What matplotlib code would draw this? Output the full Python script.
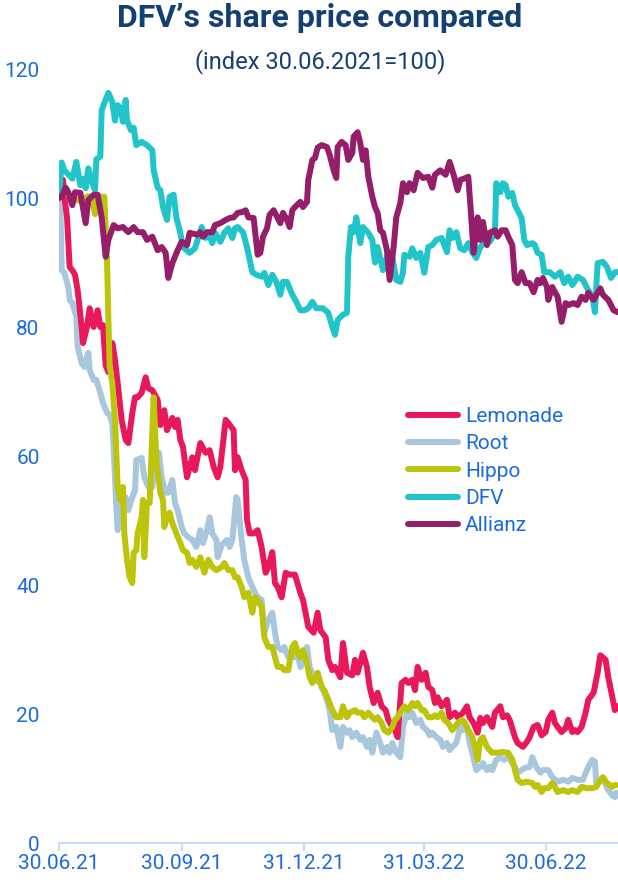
import matplotlib
matplotlib.use('Agg')
import matplotlib.pyplot as plt
import matplotlib.dates as mdates
import pandas as pd

plt.rcParams['font.family'] = ['Roboto', 'DejaVu Sans']

# index, 30.06.2021 = 100; (days after 30.06.2021, value)
start = pd.Timestamp('2021-06-30')

dfv = [(0, 100), (2, 105.5), (4, 104.3), (10, 103), (13, 105.6), (16, 102), (18, 103), (20, 101.5), (22, 104.6),
       (25, 102.3), (27, 101.2), (28, 106), (31, 106.4), (32, 113.6), (34, 114.7), (37, 116.3), (40, 114.9),
       (42, 112), (44, 114.4), (46, 114), (48, 111.8), (50, 115.2), (51, 112), (54, 110.5), (56, 110.9),
       (58, 108.2), (62, 108.7), (66, 108.2), (70, 107.4), (71, 104.3), (74, 101.6), (76, 101.2), (78, 98.6),
       (81, 96.6), (83, 100.2), (86, 100.5), (88, 97), (91, 94.6), (93, 92.4), (98, 91.5), (102, 92.2),
       (107, 95.5), (110, 93.8), (112, 94.7), (115, 93), (117, 94.6), (121, 93.2), (124, 94.6), (127, 95.3),
       (130, 93.8), (132, 95.3), (134, 95.5), (138, 94.7), (141, 92.4), (145, 88.5), (148, 88.1), (152, 87.8),
       (154, 88.4), (157, 86.5), (160, 88.1), (163, 87), (166, 85), (168, 87), (171, 87), (175, 85), (178, 83.9),
       (181, 82.6), (184, 82.6), (187, 82.9), (190, 83.9), (193, 82.9), (198, 82.9), (202, 82.2), (205, 80),
       (207, 78.8), (209, 81.1), (213, 81.9), (216, 82.2), (217, 90.9), (219, 95.5), (221, 94.7), (223, 97),
       (226, 93), (228, 95.5), (232, 94.6), (235, 93.5), (237, 90), (239, 92.4), (243, 88.8), (247, 91.5),
       (250, 90.9), (253, 87.3), (256, 87), (258, 88.4), (259, 91.2), (263, 90.9), (265, 92.2), (268, 90.7),
       (271, 91.5), (274, 88.4), (277, 92.4), (280, 92.7), (283, 93.5), (287, 93.8), (291, 91.6), (293, 95),
       (295, 93.8), (298, 94.7), (301, 92.2), (304, 91.9), (307, 93), (310, 91.6), (313, 90.7), (316, 92.4),
       (319, 93), (323, 93.2), (327, 94.6), (328, 102.3), (331, 100.9), (333, 102.3), (335, 102), (337, 100.2),
       (340, 100.8), (342, 98.9), (344, 98.1), (347, 96.9), (349, 93.5), (351, 92.7), (355, 93), (357, 92.7),
       (359, 91.5), (362, 91.2), (364, 88.5), (368, 88.5), (372, 87.8), (376, 88.5), (379, 86.8), (382, 87.8),
       (385, 86.5), (389, 87.8), (393, 87.3), (397, 85.7), (400, 84.7), (402, 82.3), (404, 89.9), (408, 90.1),
       (411, 89.3), (414, 87.6), (417, 88.5), (419, 88.5)]

allianz = [(0, 100), (2, 100.2), (5, 101.6), (7, 100.9), (10, 98.9), (12, 100.9), (16, 100.8), (20, 96.1),
           (22, 99.7), (26, 100.5), (29, 100.5), (32, 97), (35, 90.9), (37, 93.5), (41, 95.8), (44, 95.3),
           (48, 95.5), (52, 94.7), (56, 95.5), (59, 94.7), (63, 94.7), (66, 93.5), (70, 94), (74, 91.9),
           (77, 92.4), (80, 91.5), (82, 87.6), (85, 89.9), (89, 91.9), (92, 93.2), (96, 92.7), (98, 94.6),
           (104, 94.3), (106, 94.7), (108, 94), (111, 94.7), (115, 94.7), (117, 95.8), (121, 96.1), (125, 96.6),
           (128, 96.9), (131, 97), (134, 97.7), (137, 97.8), (140, 98.1), (142, 97), (146, 96.9), (149, 91.2),
           (151, 91.5), (153, 94), (156, 95.3), (158, 97.4), (161, 98.1), (164, 96.9), (166, 96.1), (168, 97.7),
           (171, 96.6), (173, 95.5), (175, 98.1), (177, 98.6), (181, 99.4), (183, 98.6), (186, 99.4), (187, 102.8),
           (190, 105.9), (192, 106.2), (194, 107.8), (197, 108.2), (201, 107.9), (203, 106.7), (206, 104.3),
           (208, 103.1), (209, 107.9), (212, 108.7), (215, 108.2), (217, 105.9), (220, 107), (221, 109.5),
           (224, 110.2), (226, 108.5), (228, 105.9), (230, 107.4), (232, 103.3), (235, 100.2), (237, 98.6),
           (239, 97.7), (241, 95), (243, 94.6), (246, 91.9), (248, 87.3), (251, 92.4), (253, 97), (256, 99.2),
           (258, 102.3), (261, 100.9), (263, 102.3), (266, 101.2), (269, 103.9), (273, 103.1), (277, 103.3),
           (280, 101.6), (282, 103.6), (286, 104.3), (290, 103.6), (293, 105.6), (296, 103.6), (299, 101.2),
           (301, 102.8), (305, 103.1), (307, 103.3), (309, 97.7), (311, 91.5), (314, 97), (316, 93.5), (318, 96.3),
           (321, 92.7), (323, 94.6), (327, 95), (329, 94), (332, 95), (335, 95), (337, 94), (340, 92.7), (342, 87.3),
           (344, 86.8), (347, 88.5), (350, 86.8), (353, 86.8), (356, 85.4), (359, 87.3), (361, 86.8), (363, 87.6),
           (366, 86.2), (367, 84.2), (370, 86.2), (372, 85.4), (374, 84.7), (377, 80.8), (380, 83.7), (382, 83.4),
           (386, 83.7), (389, 83.4), (392, 84.7), (395, 84.2), (397, 85.3), (401, 84.2), (404, 85.3), (406, 86),
           (408, 85), (412, 84.2), (416, 82.6), (419, 82.3)]

lemonade = [(0, 100), (3, 102.8), (4, 100.2), (6, 97), (7, 93), (8, 89.3), (10, 88.8), (12, 88.1), (14, 85.7),
            (17, 80), (18, 77.5), (21, 80), (23, 82.9), (26, 80), (29, 82.6), (31, 80), (33, 80.3), (35, 74.1),
            (37, 73), (40, 77.5), (42, 74.9), (44, 71.3), (47, 65.6), (50, 62.5), (52, 62), (55, 66.7), (57, 69.1),
            (59, 69.1), (62, 69.8), (65, 72.2), (67, 70.5), (70, 70.2), (74, 68.7), (76, 64.8), (79, 67.1), (81, 64),
            (85, 65.9), (87, 64.5), (89, 65.6), (91, 62.5), (93, 61.4), (96, 56.7), (100, 59.8), (102, 57.8),
            (106, 62), (110, 60.5), (113, 60.9), (116, 58.3), (119, 56.7), (121, 58.3), (125, 65.6), (127, 65.1),
            (131, 64), (132, 57.8), (134, 59.8), (137, 57.8), (140, 56.3), (141, 50.1), (143, 48), (146, 48),
            (149, 48.5), (152, 45.9), (155, 41.9), (157, 42.8), (160, 45.1), (162, 40.3), (164, 39.7), (167, 38.1),
            (170, 41.9), (173, 41.6), (177, 41.6), (181, 38.8), (183, 37.7), (187, 33.5), (191, 32.6), (194, 35.7),
            (196, 33), (200, 31.9), (202, 28.4), (205, 26.8), (207, 27.3), (211, 25.7), (213, 31), (216, 26.4),
            (220, 26), (222, 28.4), (224, 26.4), (228, 29.5), (231, 27.3), (233, 24.2), (236, 21.7), (239, 23.3),
            (242, 21.2), (245, 20.6), (247, 19.1), (250, 18), (252, 17.5), (254, 16.4), (257, 24.8), (260, 25.3),
            (262, 24.8), (265, 25.3), (267, 23.7), (269, 27.3), (272, 25.3), (275, 26.4), (277, 24.2), (280, 23.7),
            (282, 21.7), (284, 22.6), (287, 21.2), (291, 22.2), (293, 19.5), (297, 20.2), (299, 19.5), (303, 20.2),
            (306, 21.2), (308, 19.5), (311, 18.6), (314, 17.1), (316, 19.4), (318, 18.6), (321, 19.5), (325, 18),
            (327, 20.2), (331, 21.2), (333, 19.5), (336, 19.8), (338, 19.1), (342, 16.4), (344, 15.5), (348, 14.9),
            (351, 15.7), (353, 16.4), (356, 18), (359, 18.3), (362, 16.7), (365, 17.2), (367, 19.1), (370, 20.2),
            (372, 18.6), (374, 18), (377, 17.2), (380, 17.8), (382, 19.1), (385, 17.2), (387, 17.5), (389, 17.2),
            (392, 18), (395, 20.2), (397, 22.2), (401, 23.3), (404, 26.4), (406, 29.1), (410, 28.4), (412, 25.7),
            (415, 22.6), (417, 20.6), (419, 21.2)]

root = [(0, 100), (1, 99.7), (2, 88.8), (4, 88.4), (7, 86.2), (8, 84.2), (10, 83.7), (13, 81.6), (14, 76.9),
        (17, 74.4), (19, 73.8), (22, 76), (23, 73.3), (26, 71.8), (28, 71.8), (31, 69.8), (33, 68.2), (36, 66.7),
        (38, 66.4), (40, 65.1), (42, 56.7), (43, 52.1), (44, 48.5), (47, 53.2), (50, 53.6), (52, 51.6), (55, 53.6),
        (57, 54.7), (58, 59.4), (62, 59.7), (64, 56.7), (67, 55.2), (70, 55.2), (72, 59.4), (75, 60.5), (77, 56.7),
        (80, 54.3), (82, 54.3), (85, 56.3), (87, 52.7), (89, 51.6), (92, 49), (94, 48), (97, 47.4), (100, 47),
        (103, 45.9), (106, 48.5), (108, 46.5), (111, 48.5), (113, 50.5), (115, 48), (118, 47), (119, 44.3),
        (122, 46.2), (126, 47), (128, 45.9), (130, 47), (133, 53.6), (134, 53.2), (137, 47), (139, 43.9),
        (142, 41.2), (145, 39.7), (147, 38.8), (149, 38.1), (152, 37.7), (154, 32.6), (157, 34.6), (160, 35.7),
        (162, 32.6), (164, 30.4), (167, 29.9), (169, 30.4), (172, 28.8), (175, 28.8), (177, 28.8), (179, 29.5),
        (181, 27.3), (183, 27.9), (186, 30.4), (188, 27.3), (192, 25.3), (196, 24.8), (198, 23.7), (201, 22.2),
        (203, 20.6), (205, 17.5), (208, 18), (211, 14.9), (213, 18), (216, 17.1), (218, 17.5), (220, 16.4),
        (223, 17.1), (226, 16), (228, 16.4), (231, 14.9), (233, 16), (235, 14), (238, 17.1), (241, 15.5),
        (243, 14), (246, 14.9), (248, 14), (250, 15.5), (253, 14), (256, 13.3), (258, 18), (261, 20.2),
        (263, 19.5), (265, 20.2), (268, 18.6), (271, 19.1), (273, 18), (276, 17.5), (278, 16.7), (280, 17.1),
        (283, 16.4), (286, 16), (288, 14.9), (291, 15.5), (293, 14.4), (295, 14.9), (298, 15.5), (301, 18),
        (303, 17.5), (306, 18), (308, 15.5), (310, 14), (313, 11.3), (316, 11.8), (318, 12.4), (321, 11.3),
        (323, 11.8), (325, 11.3), (328, 12.9), (331, 13.3), (334, 12.9), (337, 13.3), (340, 12.4), (342, 11.8),
        (344, 10.9), (347, 11.3), (349, 11.6), (353, 11.8), (355, 13.3), (358, 11.8), (361, 10.9), (363, 11.3),
        (367, 11.3), (370, 10.2), (374, 9.5), (378, 9.8), (382, 9.5), (385, 10.1), (389, 9.8), (393, 9.8),
        (397, 11.8), (400, 12.9), (402, 12.6), (403, 9.3), (407, 9.8), (409, 9.5), (412, 8.2), (415, 7.4),
        (417, 7.1), (418, 7.8)]

hippo = [(0, 100), (4, 101), (10, 100), (16, 99.5), (22, 100.3), (25, 99.8), (27, 97.5), (28, 99.5), (31, 100.2),
         (34, 100.2), (36, 90.4), (37, 81.6), (38, 73.8), (40, 71.3), (42, 65.6), (43, 60.5), (44, 55.2),
         (46, 53.2), (48, 55.2), (49, 48), (51, 43.9), (53, 41.2), (55, 40.3), (56, 45), (58, 45.4), (59, 48),
         (62, 50.5), (63, 53.2), (64, 44.3), (66, 52.7), (68, 52.7), (70, 63.6), (71, 69.1), (73, 59.4), (76, 54.3),
         (78, 53.2), (79, 49), (81, 50.5), (83, 51.2), (85, 49.6), (88, 48), (91, 46.5), (93, 45.4), (96, 45),
         (98, 43.4), (100, 43.9), (103, 42.8), (106, 44.3), (109, 41.9), (112, 43.9), (115, 42.8), (118, 42.3),
         (122, 42.8), (124, 43.4), (127, 42.3), (130, 42.3), (132, 41.2), (134, 41.2), (137, 39.7), (139, 38.1),
         (142, 38.8), (145, 35.7), (147, 38.1), (149, 37.7), (152, 36.6), (154, 31.9), (157, 30.4), (160, 30.4),
         (162, 28.8), (164, 27.3), (167, 27.3), (169, 26.8), (172, 26.8), (175, 30.4), (177, 31), (179, 29.5),
         (181, 28.8), (183, 29.9), (186, 27.9), (188, 25.7), (190, 24.8), (194, 26.4), (197, 24.2), (199, 23.7),
         (202, 22.2), (205, 20.6), (208, 19.5), (211, 19.5), (213, 21.2), (216, 19.5), (218, 20.2), (222, 20.6),
         (224, 20.2), (227, 20.2), (229, 19.5), (232, 20.2), (235, 19.5), (237, 19.1), (239, 19.5), (242, 18.6),
         (244, 17.5), (247, 17.1), (250, 18), (252, 19.1), (254, 19.5), (257, 20.6), (259, 21.2), (262, 20.6),
         (265, 21.7), (267, 21.2), (269, 21.7), (272, 20.6), (274, 20.6), (277, 19.5), (280, 19.5), (282, 19.8),
         (284, 19.5), (287, 20.2), (289, 19.1), (292, 18.6), (295, 17.5), (297, 18), (299, 18.6), (302, 19.1),
         (304, 18.8), (307, 17.5), (310, 16.4), (312, 14.9), (314, 12.9), (316, 16), (318, 16.4), (321, 14.9),
         (323, 14.4), (325, 14), (329, 14), (333, 14.1), (337, 14), (340, 12.9), (342, 11.3), (344, 9.8),
         (347, 9.3), (351, 9.5), (355, 9.3), (357, 8.7), (359, 9), (362, 7.9), (364, 8.5), (367, 8.5), (370, 9.3),
         (372, 8.7), (374, 7.9), (378, 8.2), (382, 7.9), (385, 8.2), (389, 7.9), (392, 8.7), (396, 8.5),
         (400, 8.5), (403, 8.7), (406, 9.8), (408, 10.2), (411, 9.3), (415, 8.7), (417, 9), (418, 9)]

names = ['Lemonade', 'Root', 'Hippo', 'DFV', 'Allianz']
series = {'Lemonade': lemonade, 'Root': root, 'Hippo': hippo, 'DFV': dfv, 'Allianz': allianz}
colors = {'Lemonade': '#e8195a', 'Root': '#a8c6dc', 'Hippo': '#bcc40c', 'DFV': '#21c5c9', 'Allianz': '#951e6b'}
draw_order = ['Root', 'Lemonade', 'Hippo', 'DFV', 'Allianz']

tick_dates = ['2021-06-30', '2021-09-30', '2021-12-31', '2022-03-31', '2022-06-30']
y_ticks = [0, 20, 40, 60, 80, 100, 120]

navy = '#143f73'
label_blue = '#1c6ae0'
axis_blue = '#c6dcf7'

fig = plt.figure(figsize=(6.18, 8.8), dpi=100)
ax = fig.add_axes([59 / 618, 37 / 880, 559 / 618, 774 / 880])

lines = {}
for name in draw_order:
    days, vals = zip(*series[name])
    dates = start + pd.to_timedelta(list(days), unit='D')
    lines[name], = ax.plot(dates, vals, color=colors[name], lw=4.3,
                           solid_capstyle='round', solid_joinstyle='round')

ax.set_xlim(start, start + pd.Timedelta(days=419.3))
ax.set_ylim(0, 120)
ax.set_yticks(y_ticks)
ax.set_xticks(pd.to_datetime(tick_dates))
ax.xaxis.set_major_formatter(mdates.DateFormatter('%d.%m.%y'))

for s in ['top', 'right', 'left']:
    ax.spines[s].set_visible(False)
ax.spines['bottom'].set_color(axis_blue)
ax.spines['bottom'].set_linewidth(1.5)

ax.tick_params(axis='x', length=6, width=1.5, color=axis_blue, labelcolor=label_blue, labelsize=15, pad=2)
ax.tick_params(axis='y', length=0, labelcolor=label_blue, labelsize=15, pad=14)

fig.text(320 / 618, 1 - 18 / 880, 'DFV’s share price compared', ha='center', va='center',
         fontsize=23, fontweight='bold', color=navy)
fig.text(320 / 618, 1 - 62 / 880, '(index 30.06.2021=100)', ha='center', va='center',
         fontsize=17, color=navy)

ax.legend([lines[n] for n in names], names, loc='upper left',
          bbox_to_anchor=(408 / 618, 1 - 407 / 880), bbox_transform=fig.transFigure,
          frameon=False, fontsize=15, handlelength=2.4, handletextpad=0.33,
          labelspacing=0.4, borderpad=0, borderaxespad=0, labelcolor=label_blue)

fig.savefig('out.png', dpi=100)
